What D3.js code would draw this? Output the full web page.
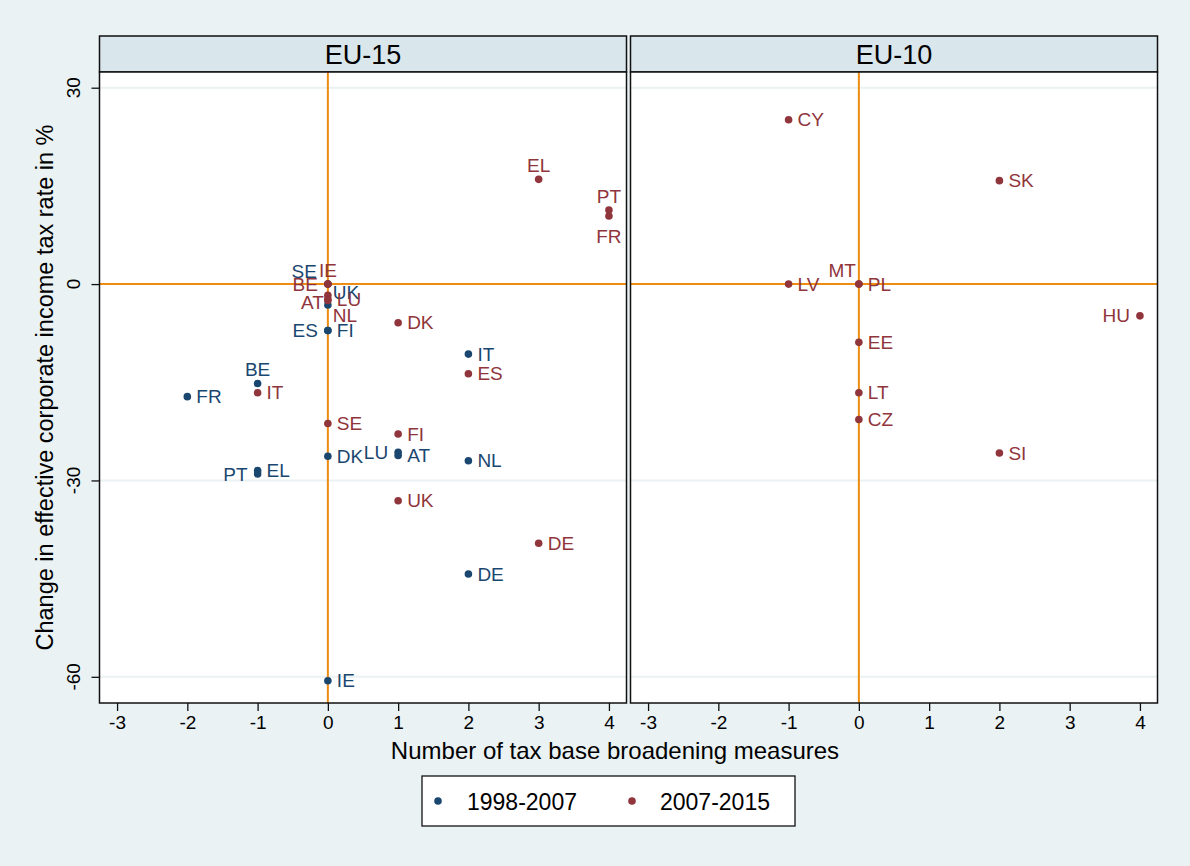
<!DOCTYPE html>
<html lang="en">

<head>
    <meta charset="UTF-8">
    <title>Tax base broadening vs. effective CIT rate</title>
    <script src="https://d3js.org/d3.v7.min.js"></script>
    <style>
        body { margin: 0; background: #eaf2f3; }
        text { font-family: "Liberation Sans", Arial, sans-serif; }
    </style>
</head>

<body>
    <div id="chart"></div>
    <script>
        // Data: [country, number of measures, change in effective CIT rate %]
        const panels = ["EU-15", "EU-10"];
        const periods = ["1998-2007", "2007-2015"];
        const xTicks = [-3, -2, -1, 0, 1, 2, 3, 4];
        const yTicks = [30, 0, -30, -60];

        const eu15Early = [
            ["FR", -2, -17.2], ["BE", -1, -15.2], ["EL", -1, -28.5], ["PT", -1, -29.0],
            ["SE", 0, 0], ["UK", 0, -3.2], ["ES", 0, -7.1], ["FI", 0, -7.1],
            ["DK", 0, -26.3], ["IE", 0, -60.6], ["LU", 1, -25.7], ["AT", 1, -26.2],
            ["IT", 2, -10.7], ["NL", 2, -27.0], ["DE", 2, -44.3]
        ];
        const eu15Late = [
            ["IT", -1, -16.6], ["IE", 0, 0], ["BE", 0, 0], ["AT", 0, -1.7],
            ["LU", 0, -2.3], ["NL", 0, -2.5], ["SE", 0, -21.3], ["DK", 1, -5.9],
            ["FI", 1, -22.9], ["UK", 1, -33.1], ["ES", 2, -13.7], ["EL", 3, 16.0],
            ["DE", 3, -39.6], ["PT", 4, 11.3], ["FR", 4, 10.4]
        ];
        const eu10Early = [];
        const eu10Late = [
            ["CY", -1, 25.1], ["LV", -1, 0], ["MT", 0, 0], ["PL", 0, 0],
            ["EE", 0, -8.9], ["LT", 0, -16.6], ["CZ", 0, -20.7], ["SK", 2, 15.8],
            ["SI", 2, -25.8], ["HU", 4, -4.85]
        ];
        const panelData = {
            "EU-15": [eu15Early, eu15Late],
            "EU-10": [eu10Early, eu10Late]
        };

        // marker label clock positions (default 3 o'clock)
        const labelClock = {
            "EU-15|1998-2007|BE": 12, "EU-15|1998-2007|PT": 9, "EU-15|1998-2007|SE": 10,
            "EU-15|1998-2007|UK": 2, "EU-15|1998-2007|ES": 9, "EU-15|1998-2007|LU": 9,
            "EU-15|2007-2015|IE": 12, "EU-15|2007-2015|BE": 9, "EU-15|2007-2015|AT": 8,
            "EU-15|2007-2015|NL": 4, "EU-15|2007-2015|EL": 12, "EU-15|2007-2015|PT": 12,
            "EU-15|2007-2015|FR": 6, "EU-10|2007-2015|MT": 11, "EU-10|2007-2015|HU": 9
        };
        const clockOffset = {
            3: [9, 0, "start"], 9: [-10, 0, "end"], 12: [0, -14, "middle"], 6: [0, 20, "middle"],
            2: [5, -13, "start"], 4: [5, 15, "start"], 8: [-4, 7, "end"],
            10: [-11, -13, "end"], 11: [-3, -14, "end"]
        };

        const colors = ["#1a476f", "#90353b"];
        const lineColor = "#ee8c12";
        const gridColor = "#eaf2f3";

        const W = 1190, H = 866;
        const plotTop = 72, plotBottom = 703, headerTop = 36;
        const panelX = [[99.5, 626.5], [630.5, 1157.5]];

        const svg = d3.select("#chart").append("svg")
            .attr("width", W)
            .attr("height", H);

        svg.append("rect").attr("width", W).attr("height", H).attr("fill", "#eaf2f3");

        const y = d3.scaleLinear().domain([-64, 32.4]).range([plotBottom, plotTop]);

        panels.forEach((name, p) => {
            const x = d3.scaleLinear().domain([-3.25, 4.25]).range(panelX[p]);
            const g = svg.append("g");

            // header strip
            g.append("rect")
                .attr("x", panelX[p][0]).attr("y", headerTop)
                .attr("width", panelX[p][1] - panelX[p][0]).attr("height", plotTop - headerTop)
                .attr("fill", "#d9e6eb").attr("stroke", "#111").attr("stroke-width", 1.5);
            g.append("text")
                .attr("x", (panelX[p][0] + panelX[p][1]) / 2).attr("y", 63.5)
                .attr("text-anchor", "middle").attr("font-size", "27px").attr("fill", "#000")
                .text(name);

            // plot region
            g.append("rect")
                .attr("x", panelX[p][0]).attr("y", plotTop)
                .attr("width", panelX[p][1] - panelX[p][0]).attr("height", plotBottom - plotTop)
                .attr("fill", "white");

            // grid lines
            g.selectAll("line.grid")
                .data(yTicks)
                .enter().append("line")
                .attr("class", "grid")
                .attr("x1", panelX[p][0]).attr("x2", panelX[p][1])
                .attr("y1", d => y(d)).attr("y2", d => y(d))
                .attr("stroke", gridColor).attr("stroke-width", 2);

            // reference lines at 0
            g.append("line")
                .attr("x1", panelX[p][0]).attr("x2", panelX[p][1])
                .attr("y1", y(0)).attr("y2", y(0))
                .attr("stroke", lineColor).attr("stroke-width", 2);
            g.append("line")
                .attr("x1", x(0)).attr("x2", x(0))
                .attr("y1", plotTop).attr("y2", plotBottom)
                .attr("stroke", lineColor).attr("stroke-width", 2);

            // frame
            g.append("rect")
                .attr("x", panelX[p][0]).attr("y", plotTop)
                .attr("width", panelX[p][1] - panelX[p][0]).attr("height", plotBottom - plotTop)
                .attr("fill", "none").attr("stroke", "#111").attr("stroke-width", 1.5);

            // x axis
            const xAxis = g.append("g")
                .attr("transform", `translate(0, ${plotBottom})`)
                .call(d3.axisBottom(x).tickValues(xTicks).tickSize(8).tickPadding(5).tickFormat(d3.format("d")));
            xAxis.select(".domain").remove();
            xAxis.selectAll(".tick line").attr("stroke", "#111").attr("stroke-width", 1.3);
            xAxis.selectAll(".tick text")
                .attr("font-size", "19px").attr("fill", "#000")
                .attr("font-family", "'Liberation Sans', Arial, sans-serif")
                .text(d => d < 0 ? "-" + Math.abs(d) : d);

            // points and labels
            panelData[name].forEach((series, s) => {
                const pts = g.append("g");
                pts.selectAll("circle")
                    .data(series)
                    .enter().append("circle")
                    .attr("cx", d => x(d[1]))
                    .attr("cy", d => y(d[2]))
                    .attr("r", 3.8)
                    .attr("fill", colors[s]);
                pts.selectAll("text")
                    .data(series)
                    .enter().append("text")
                    .each(function (d) {
                        const c = labelClock[`${name}|${periods[s]}|${d[0]}`] || 3;
                        const o = clockOffset[c];
                        d3.select(this)
                            .attr("x", x(d[1]) + o[0])
                            .attr("y", y(d[2]) + o[1])
                            .attr("dy", "0.35em")
                            .attr("text-anchor", o[2]);
                    })
                    .attr("font-size", "19px")
                    .attr("fill", colors[s])
                    .text(d => d[0]);
            });
        });

        // y axis (left panel only)
        const yAxis = svg.append("g")
            .attr("transform", `translate(${panelX[0][0]}, 0)`)
            .call(d3.axisLeft(y).tickValues(yTicks).tickSize(8).tickFormat(""));
        yAxis.select(".domain").remove();
        yAxis.selectAll(".tick line").attr("stroke", "#111").attr("stroke-width", 1.3);
        svg.append("g").selectAll("text")
            .data(yTicks)
            .enter().append("text")
            .attr("transform", d => `translate(80, ${y(d)}) rotate(-90)`)
            .attr("text-anchor", "middle")
            .attr("font-size", "19px")
            .text(d => d < 0 ? "-" + Math.abs(d) : d);

        // axis titles
        svg.append("text")
            .attr("transform", `translate(53, ${(plotTop + plotBottom) / 2}) rotate(-90)`)
            .attr("text-anchor", "middle")
            .attr("font-size", "23.5px")
            .text("Change in effective corporate income tax rate in %");
        svg.append("text")
            .attr("x", 615).attr("y", 759)
            .attr("text-anchor", "middle")
            .attr("font-size", "24px")
            .text("Number of tax base broadening measures");

        // legend
        const legend = svg.append("g");
        legend.append("rect")
            .attr("x", 422).attr("y", 776).attr("width", 373).attr("height", 50)
            .attr("fill", "white").attr("stroke", "#111").attr("stroke-width", 1.3);
        const legendX = [[438, 467], [632, 660]];
        periods.forEach((p, i) => {
            legend.append("circle")
                .attr("cx", legendX[i][0]).attr("cy", 801).attr("r", 3.8)
                .attr("fill", colors[i]);
            legend.append("text")
                .attr("x", legendX[i][1]).attr("y", 809.5)
                .attr("font-size", "23px")
                .text(p);
        });
    </script>
</body>

</html>
